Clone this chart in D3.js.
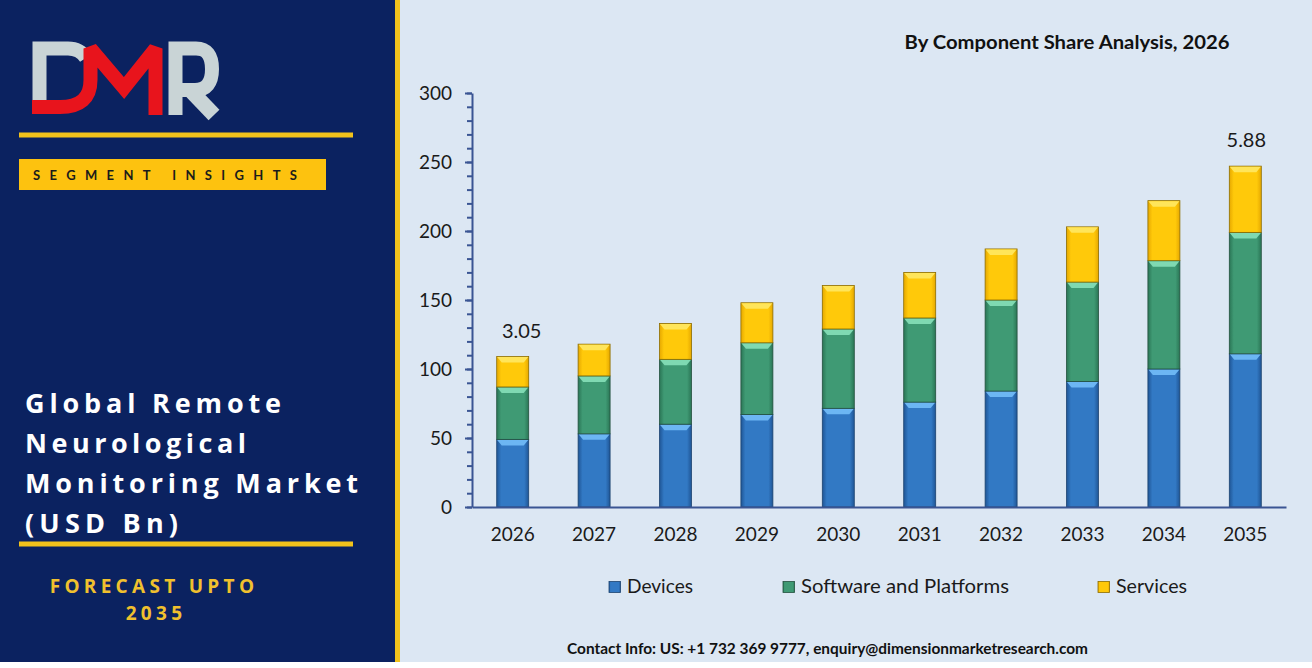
<!DOCTYPE html>
<html>
<head>
<meta charset="utf-8">
<script src="https://cdn.jsdelivr.net/npm/d3@7"></script>
<style>
  body { margin: 0; background: #fff; }
  svg { display: block; }
</style>
</head>
<body>
<div id="chart"></div>
<script>
// data (USD Bn)
const years = ["2026", "2027", "2028", "2029", "2030", "2031", "2032", "2033", "2034", "2035"];
const seriesNames = ["Devices", "Software and Platforms", "Services"];
const devices = [49, 53, 60, 67, 71.5, 76, 84, 91, 100, 111];
const software = [38, 42, 47, 52, 57.5, 61, 66, 72, 78.5, 88];
const services = [22, 23, 26, 29, 31.5, 33, 37, 40, 43.5, 48];
const yTicks = [0, 50, 100, 150, 200, 250, 300];
const callouts = [{ year: "2026", text: "3.05", dx: 9 }, { year: "2035", text: "5.88", dx: 1 }];

const W = 1312, H = 668;
const svg = d3.select("#chart").append("svg").attr("width", W).attr("height", H);

const colors = {
  "Devices": { base: "#3279c4", edge: "#1f5595", top: "#6cb6f3", line: "#1d4470" },
  "Software and Platforms": { base: "#3f9a74", edge: "#2a7555", top: "#7fd9b2", line: "#24513f" },
  "Services": { base: "#ffc90a", edge: "#e6a800", top: "#ffe55a", line: "#8c6d00" }
};

// gradients for the bevelled look
const defs = svg.append("defs");
seriesNames.forEach((s, i) => {
  const g = defs.append("linearGradient").attr("id", "grad" + i)
    .attr("x1", "0").attr("x2", "1").attr("y1", "0").attr("y2", "0");
  g.append("stop").attr("offset", "0%").attr("stop-color", colors[s].edge);
  g.append("stop").attr("offset", "14%").attr("stop-color", colors[s].base);
  g.append("stop").attr("offset", "86%").attr("stop-color", colors[s].base);
  g.append("stop").attr("offset", "100%").attr("stop-color", colors[s].edge);
});

// backgrounds
svg.append("rect").attr("x", 0).attr("y", 0).attr("width", W).attr("height", 662).attr("fill", "#dce7f3");
svg.append("rect").attr("x", 0).attr("y", 0).attr("width", 395).attr("height", 662).attr("fill", "#0b2260");
svg.append("rect").attr("x", 395).attr("y", 0).attr("width", 5).attr("height", 662).attr("fill", "#f2c21b");

// ---- left panel ----
const logo = svg.append("g");
logo.append("path").attr("d", "M39.5,100 V48.5 H68 Q80,48.5 86,58")
  .attr("fill", "none").attr("stroke", "#c9d4d6").attr("stroke-width", 14);
logo.append("path").attr("d", "M32,107 H60 Q90.5,107 90.5,80 V48.5 L124,88 L155.5,48.5 V115")
  .attr("fill", "none").attr("stroke", "#e8141c").attr("stroke-width", 14)
  .attr("stroke-linejoin", "miter").attr("stroke-miterlimit", 2);
logo.append("path").attr("d", "M175.5,115 V48.5 H196 Q212,48.5 212,69 Q212,90 195,90 H182")
  .attr("fill", "none").attr("stroke", "#c9d4d6").attr("stroke-width", 14);
logo.append("path").attr("d", "M192,92 L214,115")
  .attr("fill", "none").attr("stroke", "#c9d4d6").attr("stroke-width", 15);

svg.append("rect").attr("x", 19).attr("y", 132.5).attr("width", 334).attr("height", 5).attr("fill", "#f2c21b");
svg.append("rect").attr("x", 19).attr("y", 159).attr("width", 307).attr("height", 31).attr("fill", "#fdc20f");
svg.append("text").attr("x", 33).attr("y", 180)
  .attr("textLength", 264).attr("lengthAdjust", "spacing")
  .style("font", "bold 13px Lato").attr("fill", "#1b1b1b")
  .text("SEGMENT INSIGHTS");

const titleLines = [["Global Remote", 256], ["Neurological", 221], ["Monitoring Market", 333], ["(USD Bn)", 153]];
titleLines.forEach(([t, len], i) => {
  svg.append("text").attr("x", 25).attr("y", 413 + i * 40)
    .attr("textLength", len).attr("lengthAdjust", "spacing")
    .style("font", "bold 27px 'Open Sans'").attr("fill", "#ffffff")
    .text(t);
});
svg.append("rect").attr("x", 19).attr("y", 541.5).attr("width", 334).attr("height", 5).attr("fill", "#f2c21b");
svg.append("text").attr("x", 154).attr("y", 593).attr("text-anchor", "middle")
  .style("font", "bold 19px 'Open Sans'").style("letter-spacing", "4.3px").attr("fill", "#f0c02e")
  .text("FORECAST UPTO");
svg.append("text").attr("x", 156).attr("y", 620).attr("text-anchor", "middle")
  .style("font", "bold 19px 'Open Sans'").style("letter-spacing", "4.3px").attr("fill", "#f0c02e")
  .text("2035");

// ---- chart ----
const x = d3.scaleBand().domain(years).range([472, 1286]).paddingInner(0.607).paddingOuter(0.3035);
const y = d3.scaleLinear().domain([0, 300]).range([507, 93]);

const rows = years.map((yr, i) => ({
  year: yr, "Devices": devices[i], "Software and Platforms": software[i], "Services": services[i]
}));
const stacked = d3.stack().keys(seriesNames)(rows);

const axisColor = "#3a5593";
// minor ticks
svg.append("g").attr("transform", "translate(472,0)")
  .call(d3.axisLeft(y).tickValues(d3.range(0, 301, 10)).tickSize(5).tickFormat(""))
  .call(g => g.select(".domain").remove())
  .call(g => g.selectAll("line").attr("stroke", axisColor).attr("stroke-width", 2));
// major ticks
svg.append("g").attr("transform", "translate(472,0)")
  .call(d3.axisLeft(y).tickValues(yTicks).tickSize(7).tickSizeOuter(0).tickPadding(13))
  .call(g => g.select(".domain").attr("stroke", axisColor).attr("stroke-width", 2))
  .call(g => g.selectAll("line").attr("stroke", axisColor).attr("stroke-width", 2))
  .call(g => g.selectAll("text").style("font", "19px Lato").attr("fill", "#1a1a1a"));

const layer = svg.append("g").selectAll("g").data(stacked).enter().append("g");
const seg = layer.selectAll("g").data((d, i) => d.map(v => ({ v, i, key: d.key }))).enter().append("g");
const bev = 5;
seg.append("rect")
  .attr("x", d => x(d.v.data.year))
  .attr("y", d => y(d.v[1]))
  .attr("width", x.bandwidth())
  .attr("height", d => y(d.v[0]) - y(d.v[1]))
  .attr("fill", d => "url(#grad" + d.i + ")")
  .attr("stroke", d => colors[d.key].line).attr("stroke-width", 0.8);
seg.append("polygon")
  .attr("points", d => {
    const x0 = x(d.v.data.year), x1 = x0 + x.bandwidth(), t = y(d.v[1]);
    return [[x0 + 0.5, t + 0.5], [x1 - 0.5, t + 0.5], [x1 - bev, t + bev + 1], [x0 + bev, t + bev + 1]].join(" ");
  })
  .attr("fill", d => colors[d.key].top);

svg.append("g").attr("transform", "translate(0,507)")
  .call(d3.axisBottom(x).tickSize(0).tickPadding(21))
  .call(g => g.select(".domain").attr("stroke", axisColor).attr("stroke-width", 2))
  .call(g => g.selectAll("text").style("font", "19px Lato").attr("fill", "#1a1a1a"));

// callout labels over first and last bars
const totals = years.map((yr, i) => devices[i] + software[i] + services[i]);
svg.append("g").selectAll("text").data(callouts).enter().append("text")
  .attr("x", d => x(d.year) + x.bandwidth() / 2 + d.dx)
  .attr("y", d => y(totals[years.indexOf(d.year)]) - 19)
  .attr("text-anchor", "middle")
  .style("font", "20px Lato").attr("fill", "#1a1a1a")
  .text(d => d.text);

// title
svg.append("text").attr("x", 1067).attr("y", 49).attr("text-anchor", "middle")
  .attr("textLength", 325).attr("lengthAdjust", "spacingAndGlyphs")
  .style("font", "bold 18px Lato").attr("fill", "#111")
  .text("By Component Share Analysis, 2026");

// legend
const legendX = [609, 783, 1098];
const legendW = [66, 208, 71];
const lg = svg.append("g").selectAll("g").data(seriesNames).enter().append("g")
  .attr("transform", (d, i) => `translate(${legendX[i]},581.5)`);
lg.append("rect").attr("width", 11.5).attr("height", 11)
  .attr("fill", (d, i) => "url(#grad" + i + ")")
  .attr("stroke", d => colors[d].line).attr("stroke-width", 0.8);
lg.append("text").attr("x", 18).attr("y", 11.5)
  .attr("textLength", (d, i) => legendW[i]).attr("lengthAdjust", "spacingAndGlyphs")
  .style("font", "20px Lato").attr("fill", "#1a1a1a")
  .text(d => d);

// contact line
svg.append("text").attr("x", 567).attr("y", 654)
  .attr("textLength", 521).attr("lengthAdjust", "spacingAndGlyphs")
  .style("font", "bold 15.5px Lato").attr("fill", "#111")
  .text("Contact Info: US: +1 732 369 9777, enquiry@dimensionmarketresearch.com");
</script>
</body>
</html>
